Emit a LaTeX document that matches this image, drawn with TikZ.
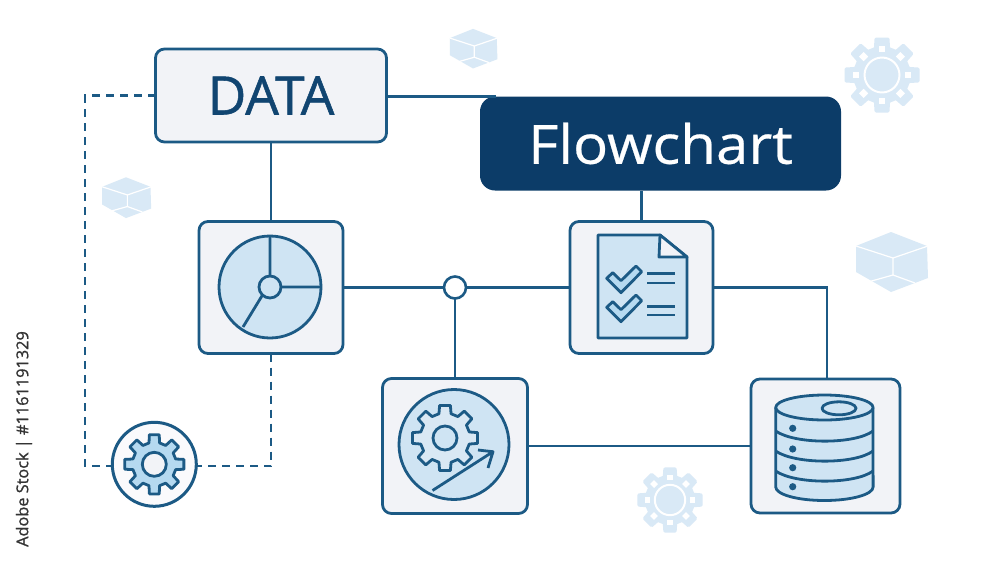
\documentclass[tikz,border=0pt]{standalone}
\usepackage{fontspec}
\setmainfont{Open Sans}
\newfontfamily\semib[FakeBold=1.0]{Open Sans}
\newfontfamily\medm[FakeBold=0.5,FakeStretch=1.08]{Open Sans}
\definecolor{ln}{HTML}{1C5A85}
\definecolor{navy}{HTML}{0C3C68}
\definecolor{boxf}{HTML}{F2F3F7}
\definecolor{lite}{HTML}{CFE4F3}
\definecolor{lite2}{HTML}{B5D9F0}
\definecolor{pale}{HTML}{D9E9F6}
\newcommand{\gearp}[5]{({#1+#4*cos(360/#5-(180/#5)*0.62)},{#2+#4*sin(360/#5-(180/#5)*0.62)}) \foreach \i in {1,...,#5}{ -- ({#1+#4*cos(\i*360/#5-(180/#5)*0.62)},{#2+#4*sin(\i*360/#5-(180/#5)*0.62)}) -- ({#1+#3*cos(\i*360/#5-(180/#5)*0.42)},{#2+#3*sin(\i*360/#5-(180/#5)*0.42)}) -- ({#1+#3*cos(\i*360/#5+(180/#5)*0.42)},{#2+#3*sin(\i*360/#5+(180/#5)*0.42)}) -- ({#1+#4*cos(\i*360/#5+(180/#5)*0.62)},{#2+#4*sin(\i*360/#5+(180/#5)*0.62)}) } -- cycle}
\newcommand{\palecube}[3]{%
 \begin{scope}[shift={(#1,#2)},scale=#3]
  \fill[pale] (0,-29) -- (36,-15) -- (37,17) -- (0,31) -- (-35,11) -- (-35,-15) -- cycle;
  \draw[white,line width=1.2pt,line join=round] (-35,-15) -- (2,-3) -- (37,-15) (2,-3) -- (2,14) -- (-23,21) (2,14) -- (24,22);
 \end{scope}}
\newcommand{\palegear}[3]{%
 \filldraw[pale,line width=3pt,line join=round] \gearp{#1}{#2}{(#3-1.5)}{(#3*0.72)}{8};
 \draw[white,line width=2pt,fill=pale] (#1,#2) circle ({#3*0.46});
 \foreach \k in {0,45,...,315}{\fill[white,shift={(#1,#2)},rotate=\k] ({#3*0.6},{-#3*0.085}) rectangle ({#3*0.77},{#3*0.085});}}
\tikzset{
 x=1pt,y=-1pt,
 conn/.style={draw=ln,line width=2.7pt},
 dash conn/.style={draw=ln,line width=2.7pt,dash pattern=on 8pt off 6pt},
 card/.style={draw=ln,line width=2.8pt,fill=boxf,rounded corners=9pt,inner sep=0pt,outer sep=0pt},
 icon/.style={draw=ln,line width=2.8pt,line join=round},
}
\begin{document}
\begin{tikzpicture}
\useasboundingbox (0,0) rectangle (1000,563);
\fill[white] (0,0) rectangle (1000,563);
% pale decoration
\palecube{473}{48}{0.66}
\palecube{126}{197}{0.68}
\palecube{891}{261}{1}
\palegear{882}{75}{38}
\palegear{670}{500}{33}
% nodes
\node[card,minimum width=231pt,minimum height=93pt,text=navy!70!ln,font=\semib\fontsize{53}{53}\selectfont] (data) at (271,95.5) {DATA};
\node[fill=navy,rounded corners=15pt,minimum width=361pt,minimum height=94pt,inner sep=0pt,outer sep=0pt,text=white,font=\medm\fontsize{54}{54}\selectfont] (flow) at (660.5,143.5) {\raisebox{-5pt}{Flowchart}};
\node[card,minimum width=144pt,minimum height=132pt] (chart) at (271,287.5) {};
\node[card,minimum width=143pt,minimum height=132pt] (doc) at (641.5,287.5) {};
\node[card,minimum width=145pt,minimum height=135pt] (proc) at (455,446) {};
\node[card,minimum width=149pt,minimum height=134pt] (db) at (825.5,446) {};
\node[circle,draw=ln,line width=2.6pt,fill=white,minimum size=22pt,inner sep=0pt,outer sep=0pt] (junc) at (455,287.5) {};
\node[circle,draw=ln,line width=3pt,fill=boxf!40!white,minimum size=84pt,inner sep=0pt,outer sep=0pt] (cog) at (154.3,464.3) {};
% connectors
\coordinate (dl) at (85,95.5);
\coordinate (dm) at (85,466);
\coordinate (dr) at (271,466);
\draw[conn] ([yshift=-1pt]data.east) -- ([xshift=16pt]flow.north west);
\draw[conn] (data.south) -- (chart.north);
\draw[conn] (doc.north |- flow.south) -- (doc.north);
\draw[conn] (chart.east) -- (junc.west);
\draw[conn] (junc.east) -- (doc.west);
\draw[conn] (junc.south) -- (proc.north);
\draw[conn] (doc.east) -| ([xshift=1.5pt]db.north);
\draw[conn] (proc.east) -- (db.west);
\draw[dash conn] (data.west) -- (dl) -- (dm) -- (cog.west |- dm);
\draw[dash conn] (chart.south) -- (dr) -- (cog.east |- dr);
% pie icon
\draw[icon,fill=lite] (270,287) circle (51);
\draw[icon] (270,236) -- (270,276) (281,287) -- (321,287) (262.5,295) -- (243,327);
\draw[icon] (270,287) circle (11);
% document icon
\draw[icon,fill=lite] (598,235) -- (660,235) -- (687,257) -- (687,338) -- (598,338) -- cycle;
\draw[icon,fill=boxf] (660,235) -- (687,257) -- (659,257) -- cycle;
\foreach \dy in {0,29}{
 \draw[icon,fill=lite2,yshift=-\dy pt] (606.7,278.3) -- (621,292.7) -- (641.7,271.7) -- (636,266) -- (621,280.7) -- (612.7,272.7) -- cycle;
}
\draw[icon] (647,273.5) -- (675,273.5) (647,283) -- (675,283) (647,306.7) -- (675,306.7) (647,315) -- (675,315);
% process icon
\draw[icon,fill=lite] (454,444.5) circle (55);
\draw[icon,fill=boxf!30!lite] \gearp{445}{438}{33}{25}{8};
\draw[icon,fill=lite] (445,438) circle (12);
\draw[icon] (432.5,490.5) -- (493,451.7) (478,450) -- (493,451.7) -- (488,468);
% database icon
\draw[icon,fill=lite] (775.7,407.5) -- (775.7,487) arc[start angle=180,end angle=0,x radius=48.7,y radius=13.5] -- (873,407.5);
\draw[icon,fill=lite] (824.4,407.5) ellipse [x radius=48.7,y radius=12.5];
\draw[icon] (839,408.3) ellipse [x radius=17,y radius=6.5];
\foreach \yy in {431,451,471}{
 \draw[icon] (775.7,\yy) .. controls (795,\yy+13.5) and (855,\yy+13.5) .. (873,\yy);
}
\foreach \yy in {428.3,449,467.7,486.7}{
 \fill[ln] (792.7,\yy) circle (3.6);
}
% small gear
\draw[icon,fill=lite2] \gearp{154.3}{464.3}{30}{22}{8};
\draw[icon,fill=boxf] (154.3,464.3) circle (12);
% stock line
\node[rotate=90,text=black!80,font=\semib\fontsize{16.3}{17}\selectfont] (stock) at (24,439) {Adobe Stock | \#1161191329};
\end{tikzpicture}
\end{document}
